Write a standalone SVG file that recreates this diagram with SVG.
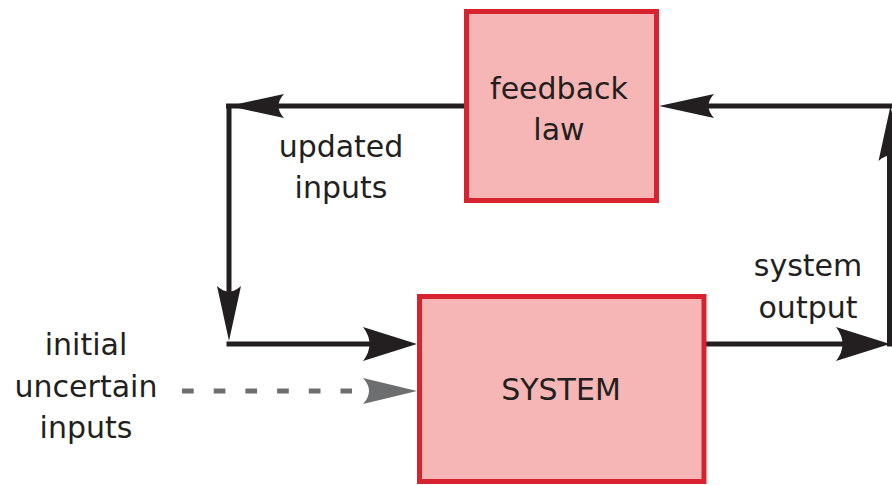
<svg xmlns="http://www.w3.org/2000/svg" xmlns:xlink="http://www.w3.org/1999/xlink" width="892" height="485" viewBox="0 0 892 485">
  <style>
    .box { fill: #f5b6b5; stroke: #d7222f; stroke-width: 5; }
    .label { font-family: "DejaVu Sans", "Liberation Sans", sans-serif; font-size: 30px; fill: #231f20; text-anchor: middle; }
    .wire { fill: none; stroke: #231f20; stroke-width: 5; }
    .dashed { fill: none; stroke: #6d6e70; stroke-width: 5; stroke-dasharray: 11.7 20; }
  </style>
  <defs>
    <!-- barbed arrowheads, tip at the origin pointing along +x -->
    <path id="head" d="M0,0 L-55,-12 Q-44,0 -55,12 Z" fill="#231f20"/>
    <path id="headWide" d="M0,0 L-54,-17 Q-41,0 -54,17 Z" fill="#231f20"/>
    <path id="headGrey" d="M0,0 L-54,-13 Q-42,0 -54,13 Z" fill="#6d6e70"/>
  </defs>

  <g id="connectors">
    <!-- feedback law -> updated inputs corner -->
    <path class="wire" d="M464,106 L226,106"/>
    <use xlink:href="#head" transform="translate(229,106) rotate(180)"/>
    <!-- down the left side -->
    <path class="wire" d="M229,104 L229,296"/>
    <use xlink:href="#head" transform="translate(229,341) rotate(90)"/>
    <!-- into SYSTEM -->
    <path class="wire" d="M226.5,344 L373,344"/>
    <use xlink:href="#headWide" transform="translate(417,344)"/>
    <!-- initial uncertain inputs (dashed) -->
    <path class="dashed" d="M182,391 L352,391"/>
    <use xlink:href="#headGrey" transform="translate(417,391)"/>
    <!-- system output -->
    <path class="wire" d="M706,344 L848,344"/>
    <use xlink:href="#headWide" transform="translate(890,344)"/>
    <!-- up the right side -->
    <path class="wire" d="M889.5,346.5 L889.5,150"/>
    <use xlink:href="#head" transform="translate(890.5,106) rotate(-90)"/>
    <!-- back into feedback law -->
    <path class="wire" d="M892,106 L705,106"/>
    <use xlink:href="#head" transform="translate(659,106) rotate(180)"/>
  </g>

  <g id="feedback-law">
    <rect class="box" x="466.5" y="11.5" width="190" height="189"/>
    <text class="label" x="559" y="99">feedback</text>
    <text class="label" x="559" y="140">law</text>
  </g>

  <g id="system">
    <rect class="box" x="419.5" y="296.5" width="284.5" height="185"/>
    <text class="label" x="561" y="400">SYSTEM</text>
  </g>

  <g id="updated-inputs">
    <text class="label" x="341" y="157">updated</text>
    <text class="label" x="341" y="198">inputs</text>
  </g>

  <g id="system-output">
    <text class="label" x="808" y="276">system</text>
    <text class="label" x="808" y="318">output</text>
  </g>

  <g id="initial-uncertain-inputs">
    <text class="label" x="86" y="355">initial</text>
    <text class="label" x="86" y="397">uncertain</text>
    <text class="label" x="86" y="438">inputs</text>
  </g>
</svg>
